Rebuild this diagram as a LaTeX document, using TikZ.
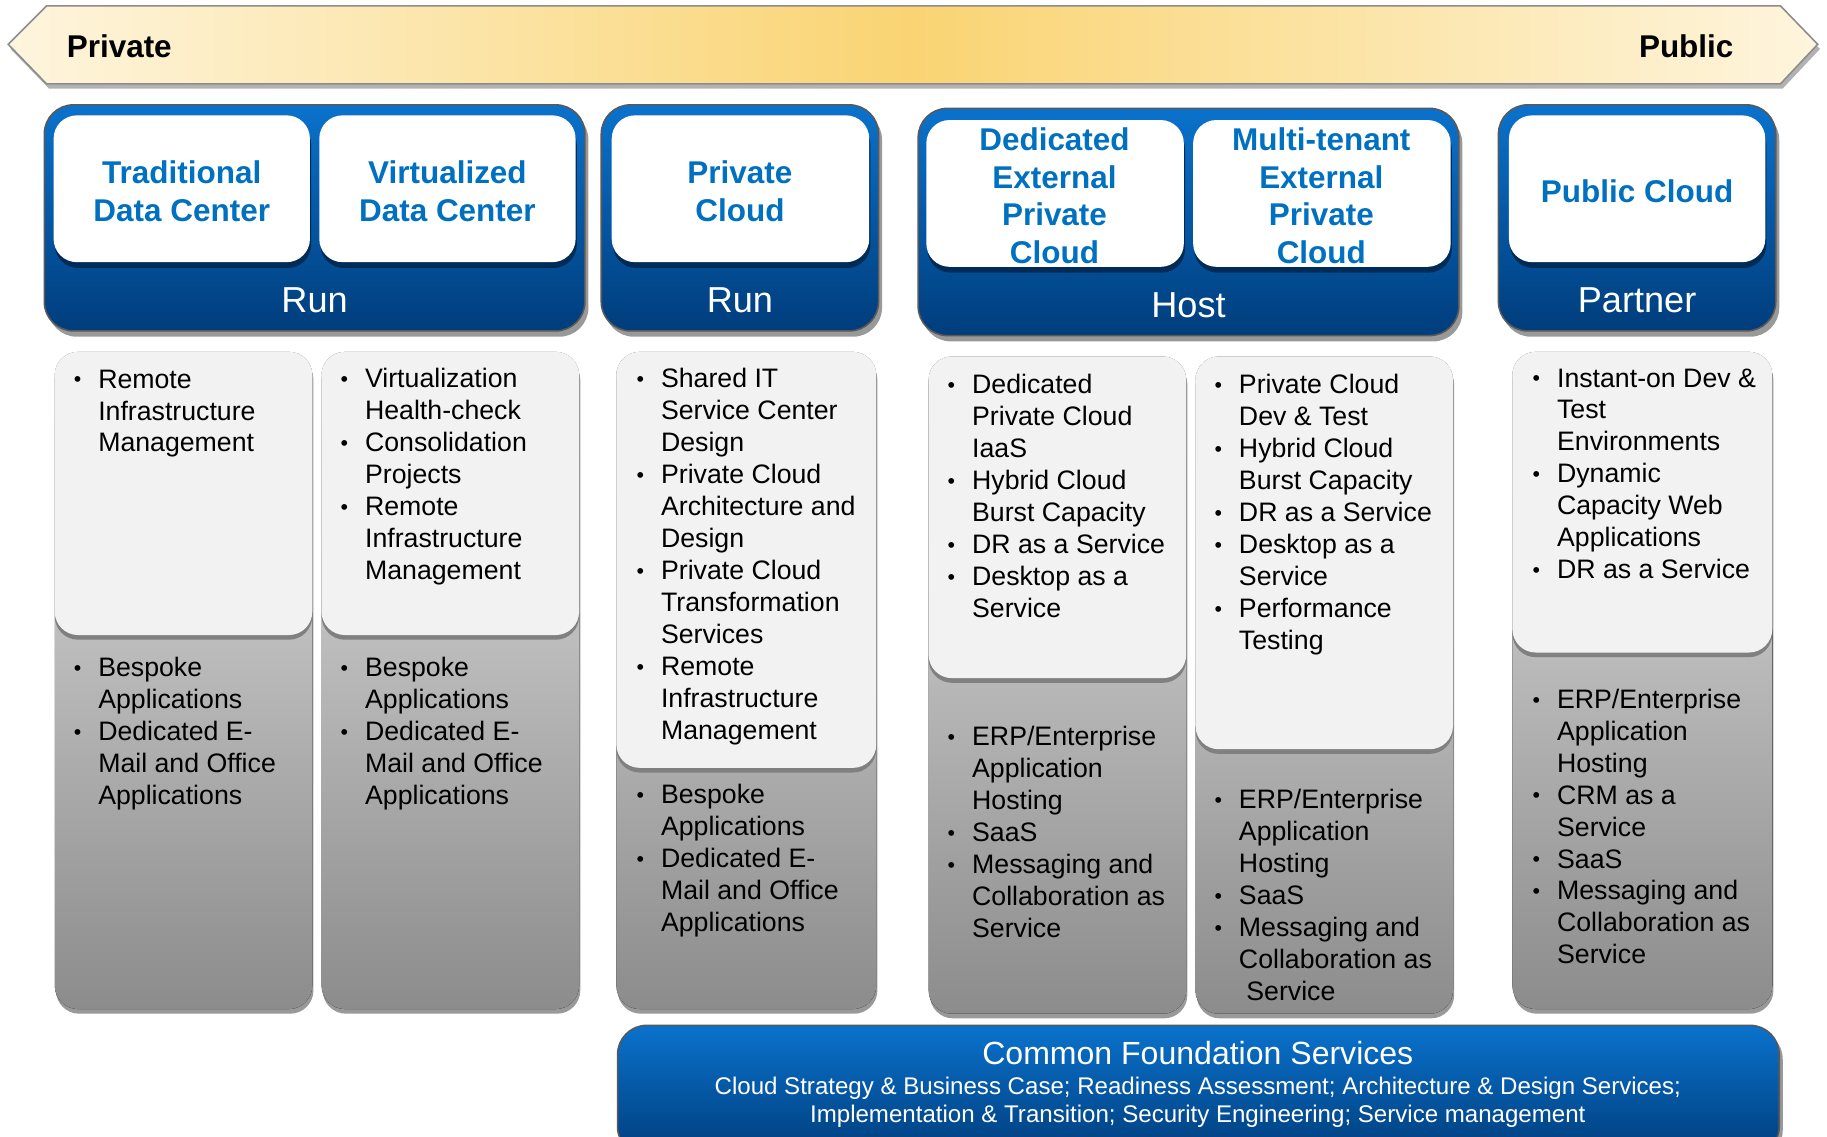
\documentclass[tikz,border=0pt]{standalone}
\usepackage{fontspec}
\setmainfont{Liberation Sans}
\definecolor{bTop}{HTML}{0A72CC}
\definecolor{bBot}{HTML}{003D7C}
\definecolor{hblue}{HTML}{0070C0}
\definecolor{cream}{HTML}{FEF5DE}
\definecolor{gold}{HTML}{FAD473}
\definecolor{lightbox}{HTML}{F2F2F2}
\definecolor{gTop}{HTML}{E2E2E2}
\definecolor{gBot}{HTML}{8C8C8C}
\newcommand\bu{\makebox[12.6pt][l]{\raisebox{0.6pt}{\fontsize{11}{11}\selectfont\textbullet}}}
\newcommand\ii{\hspace*{12.6pt}}
\newcommand\bluegrp[4]{%
  \fill[black!40, rounded corners=15pt] (#1+3,#2+5) rectangle (#3+3,#4+5);
  \draw[black!65, line width=0.8pt, rounded corners=15pt, top color=bTop, bottom color=bBot] (#1,#2) rectangle (#3,#4);
}
\newcommand\whitebox[4]{%
  \fill[bBot!70!black, rounded corners=12pt] (#1+1,#2+5) rectangle (#3+1,#4+5);
  \fill[white, rounded corners=12pt] (#1,#2) rectangle (#3,#4);
}
\newcommand\gcol[5]{%
  \fill[black!40, rounded corners=12pt] (#1+1,#2+4) rectangle (#3+1,#4+4);
  \fill[rounded corners=12pt, top color=gTop, bottom color=gBot] (#1,#2) rectangle (#3,#4);
  \fill[black!50, rounded corners=12pt] (#1,#2+4) rectangle (#3,#5+4);
  \fill[lightbox, rounded corners=12pt] (#1,#2) rectangle (#3,#5);
}
\tikzset{
  lst/.style={anchor=north west, inner sep=0pt, align=left, font=\fontsize{13.75}{16.44}\selectfont},
  hd/.style={inner sep=0pt, align=center, text=hblue, font=\bfseries\fontsize{16.2}{19.5}\selectfont},
  lbl/.style={inner sep=0pt, text=white, font=\fontsize{18.6}{22}\selectfont},
  ends/.style={inner sep=0pt, font=\bfseries\fontsize{16.2}{19}\selectfont}
}
\begin{document}
\begin{tikzpicture}[x=0.6pt, y=-0.6pt]
\useasboundingbox (0,0) rectangle (1568,975);
% banner
\fill[black!30] (9,42) -- (42,9) -- (1530,9) -- (1562,42) -- (1530,76) -- (42,76) -- cycle;
\draw[black!45, line width=0.8pt, left color=cream, right color=cream, middle color=gold] (7,38) -- (40,5) -- (1528,5) -- (1560,38) -- (1528,72) -- (40,72) -- cycle;
\node[ends, anchor=west] (priv) at (57,40) {Private};
\node[ends, anchor=east] (pub) at (1488,40) {Public};
% blue groups
\bluegrp{38}{90}{502}{284}
\whitebox{46}{99}{266}{225}
\whitebox{274}{99}{494}{225}
\node[hd] (tdc) at (156,164) {Traditional\\Data Center};
\node[hd] (vdc) at (384,164) {Virtualized\\Data Center};
\node[lbl] (run1) at (270,258) {Run};
\bluegrp{516}{90}{754}{284}
\whitebox{525}{99}{746}{225}
\node[hd] (pc) at (635,164) {Private\\Cloud};
\node[lbl] (run2) at (635,258) {Run};
\bluegrp{788}{93}{1252}{288}
\whitebox{795}{103}{1016}{229}
\whitebox{1024}{103}{1245}{229}
\node[hd] (depc) at (905,168) {Dedicated\\External\\Private\\Cloud};
\node[hd] (mepc) at (1134,168) {Multi-tenant\\External\\Private\\Cloud};
\node[lbl] (host) at (1020,262) {Host};
\bluegrp{1286}{90}{1524}{284}
\whitebox{1295}{99}{1515}{225}
\node[hd] (pubc) at (1405,164) {Public Cloud};
\node[lbl] (partner) at (1405,258) {Partner};
% columns
\gcol{47}{302}{268}{866}{545}
\gcol{276}{302}{497}{866}{545}
\gcol{529}{302}{752}{866}{659}
\gcol{797}{306}{1018}{870}{582}
\gcol{1026}{306}{1247}{870}{643}
\gcol{1298}{302}{1521}{866}{560}
% texts
\node[lst] (c1a) at (63,317) {\bu Remote\\\ii Infrastructure\\\ii Management};
\node[lst] (c1b) at (63,564) {\bu Bespoke\\\ii Applications\\\bu Dedicated E-\\\ii Mail and Office\\\ii Applications};
\node[lst] (c2a) at (292,316) {\bu Virtualization\\\ii Health-check\\\bu Consolidation\\\ii Projects\\\bu Remote\\\ii Infrastructure\\\ii Management};
\node[lst] (c2b) at (292,564) {\bu Bespoke\\\ii Applications\\\bu Dedicated E-\\\ii Mail and Office\\\ii Applications};
\node[lst] (c3a) at (546,316) {\bu Shared IT\\\ii Service Center\\\ii Design\\\bu Private Cloud\\\ii Architecture and\\\ii Design\\\bu Private Cloud\\\ii Transformation\\\ii Services\\\bu Remote\\\ii Infrastructure\\\ii Management};
\node[lst] (c3b) at (546,673) {\bu Bespoke\\\ii Applications\\\bu Dedicated E-\\\ii Mail and Office\\\ii Applications};
\node[lst] (c4a) at (813,321) {\bu Dedicated\\\ii Private Cloud\\\ii IaaS\\\bu Hybrid Cloud\\\ii Burst Capacity\\\bu DR as a Service\\\bu Desktop as a\\\ii Service};
\node[lst] (c4b) at (813,623) {\bu ERP/Enterprise\\\ii Application\\\ii Hosting\\\bu SaaS\\\bu Messaging and\\\ii Collaboration as\\\ii Service};
\node[lst] (c5a) at (1042,321) {\bu Private Cloud\\\ii Dev \& Test\\\bu Hybrid Cloud\\\ii Burst Capacity\\\bu DR as a Service\\\bu Desktop as a\\\ii Service\\\bu Performance\\\ii Testing};
\node[lst] (c5b) at (1042,677) {\bu ERP/Enterprise\\\ii Application\\\ii Hosting\\\bu SaaS\\\bu Messaging and\\\ii Collaboration as\\\ii \ Service};
\node[lst] (c6a) at (1315,316) {\bu Instant-on Dev \&\\\ii Test\\\ii Environments\\\bu Dynamic\\\ii Capacity Web\\\ii Applications\\\bu DR as a Service};
\node[lst] (c6b) at (1315,591) {\bu ERP/Enterprise\\\ii Application\\\ii Hosting\\\bu CRM as a\\\ii Service\\\bu SaaS\\\bu Messaging and\\\ii Collaboration as\\\ii Service};
% foundation
\fill[black!40, rounded corners=15pt] (533,884) rectangle (1530,995);
\draw[black!65, line width=0.8pt, rounded corners=15pt, top color=bTop, bottom color=bBot] (530,880) rectangle (1527,992);
\node[lbl, font=\fontsize{16.5}{20}\selectfont] (cfs) at (1028,904) {Common Foundation Services};
\node[inner sep=0pt, text=white, align=center, font=\fontsize{12.4}{14.4}\selectfont] (cfsd) at (1028,946) {Cloud Strategy \& Business Case; Readiness Assessment; Architecture \& Design Services;\\Implementation \& Transition; Security Engineering; Service management};
\end{tikzpicture}
\end{document}
